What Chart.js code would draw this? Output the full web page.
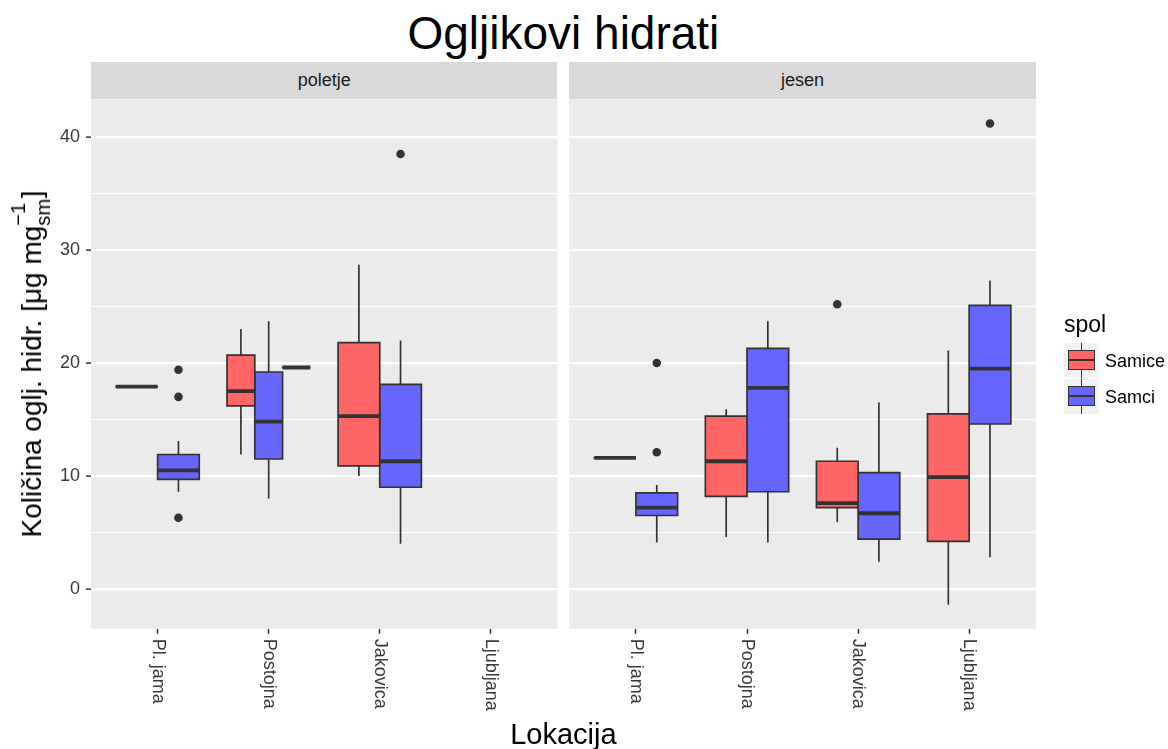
<!DOCTYPE html>
<html>
<head>
<meta charset="utf-8">
<title>Ogljikovi hidrati</title>
<script src="https://cdn.jsdelivr.net/npm/chart.js@4.4.0/dist/chart.umd.min.js"></script>
<style>
  html, body { margin: 0; padding: 0; background: #ffffff; }
  #page { position: relative; width: 1168px; height: 749px; overflow: hidden;
          font-family: "Liberation Sans", Arial, sans-serif; color: #000; }
  canvas { position: absolute; }
  .txt { position: absolute; white-space: nowrap; line-height: 1; }
  #title { left: 0; width: 1126.8px; top: 10px; text-align: center; font-size: 46px; }
  #xtitle { left: 0; width: 1126.8px; top: 720px; text-align: center; font-size: 29px; }
  #ytitle { left: 32.3px; top: 364px; height: 28px; line-height: 28px; font-size: 28px;
            transform: translate(-50%, -50%) rotate(-90deg); }
  .ss { position: relative; display: inline-block; width: 0.98em; height: 0; }
  .ss .sup { position: absolute; left: 0; bottom: 0.62em; font-size: 0.72em; line-height: 1; }
  .ss .sub { position: absolute; left: 0; top: -0.38em; font-size: 0.72em; line-height: 1; }
  .strip { position: absolute; top: 62px; height: 37.4px; line-height: 37.4px; background: #D9D9D9;
           color: #1A1A1A; font-size: 18px; text-align: center; }
  .key { position: absolute; width: 35px; height: 35px; background: #F2F2F2; }
  .key .wh { position: absolute; left: 16.7px; top: 0; width: 1.6px; height: 35px; background: #333; }
  .key .bx { position: absolute; left: 4px; top: 7px; width: 27px; height: 20px; box-sizing: border-box;
             border: 1.6px solid #333; }
  .key .md { position: absolute; left: 4px; top: 16.2px; width: 27px; height: 1.7px; background: #333; }
</style>
</head>
<body>
<div id="page">
  <canvas id="panel0" width="563" height="689" style="left:0;top:60px"></canvas>
  <canvas id="panel1" width="608" height="689" style="left:560px;top:60px"></canvas>
  <div class="strip" id="strip0" style="left:91px;width:466.4px"></div>
  <div class="strip" id="strip1" style="left:569.3px;width:466.5px"></div>
  <div class="txt" id="title">Ogljikovi hidrati</div>
  <div class="txt" id="xtitle">Lokacija</div>
  <div class="txt" id="ytitle">Količina oglj. hidr. [μg mg<span class="ss"><span class="sup">−1</span><span class="sub">sm</span></span>]</div>
  <div id="legend"></div>
</div>
<script>
// Facets, x categories and fill groups
const seasons = ['poletje', 'jesen'];
const locations = ['Pl. jama', 'Postojna', 'Jakovica', 'Ljubljana'];
const sexes = ['Samice', 'Samci'];
const sexFills = ['#FF6666', '#6666FF', '#8C8C8C'];

// One entry per box: facet, location, group and the five-number summary
const boxSeason   = [0, 0, 0, 0, 0, 0, 0, 1, 1, 1, 1, 1, 1, 1, 1];
const boxLocation = [0, 0, 1, 1, 1, 2, 2, 0, 0, 1, 1, 2, 2, 3, 3];
const boxSex      = [0, 1, 0, 1, 2, 0, 1, 0, 1, 0, 1, 0, 1, 0, 1];
const boxLower    = [17.9, 8.6, 11.9, 8.0, 19.6, 10.0, 4.0, 11.6, 4.1, 4.6, 4.1, 5.9, 2.4, -1.4, 2.8];
const boxQ1       = [17.9, 9.7, 16.2, 11.5, 19.6, 10.9, 9.0, 11.6, 6.5, 8.2, 8.6, 7.2, 4.4, 4.2, 14.6];
const boxMedian   = [17.9, 10.5, 17.5, 14.8, 19.6, 15.3, 11.3, 11.6, 7.2, 11.3, 17.8, 7.6, 6.7, 9.9, 19.5];
const boxQ3       = [17.9, 11.9, 20.7, 19.2, 19.6, 21.8, 18.1, 11.6, 8.5, 15.3, 21.3, 11.3, 10.3, 15.5, 25.1];
const boxUpper    = [17.9, 13.1, 23.0, 23.7, 19.6, 28.7, 22.0, 11.6, 9.2, 15.9, 23.7, 12.5, 16.5, 21.1, 27.3];
const boxOutliers = [[], [19.4, 17.0, 6.3], [], [], [], [], [38.5], [], [20.0, 12.1], [], [], [25.2], [], [], [41.2]];

// Y breaks
const yMajorTicks = [0, 10, 20, 30, 40];
const yMinorTicks = [5, 15, 25, 35];

const FONT = '"Liberation Sans", Arial, sans-serif';
const INK = '#333333';
const TICK_TEXT = '#3A3A3A';

// y range: data extent plus 5% on each side
const allValues = boxLower.concat(boxUpper, ...boxOutliers);
const dataLo = Math.min(...allValues), dataHi = Math.max(...allValues);
const yPad = (dataHi - dataLo) * 0.05;
const yMin = dataLo - yPad, yMax = dataHi + yPad;

// dodge: boxes sharing a location split a 0.75-wide slot
function boxGeometry(b) {
  const mates = [];
  for (let i = 0; i < boxSeason.length; i++) {
    if (boxSeason[i] === boxSeason[b] && boxLocation[i] === boxLocation[b]) mates.push(i);
  }
  const w = 0.75 / mates.length;
  const k = mates.indexOf(b);
  const c = boxLocation[b] + 1 - 0.375 + w * (k + 0.5);
  return { c, x0: c - w / 2, x1: c + w / 2 };
}

function facetDatasets(s) {
  const sets = [];
  const outl = [];
  for (let b = 0; b < boxSeason.length; b++) {
    if (boxSeason[b] !== s) continue;
    const { c, x0, x1 } = boxGeometry(b);
    sets.push({
      type: 'line', order: 2,
      data: [{ x: x0, y: boxQ1[b] }, { x: x0, y: boxQ3[b] }, { x: x1, y: boxQ3[b] },
             { x: x1, y: boxQ1[b] }, { x: x0, y: boxQ1[b] }],
      borderColor: INK, borderWidth: 1.7, borderJoinStyle: 'miter', borderCapStyle: 'square',
      backgroundColor: sexFills[boxSex[b]], fill: 'shape', pointRadius: 0
    });
    sets.push({
      type: 'line', order: 3, spanGaps: false,
      data: [{ x: c, y: boxQ3[b] }, { x: c, y: boxUpper[b] }, { x: null, y: null },
             { x: c, y: boxQ1[b] }, { x: c, y: boxLower[b] }],
      borderColor: INK, borderWidth: 1.7, borderCapStyle: 'butt', fill: false, pointRadius: 0
    });
    sets.push({
      type: 'line', order: 1,
      data: [{ x: x0, y: boxMedian[b] }, { x: x1, y: boxMedian[b] }],
      borderColor: INK, borderWidth: 3.8, borderCapStyle: 'butt', fill: false, pointRadius: 0
    });
    boxOutliers[b].forEach(v => outl.push({ x: c, y: v }));
  }
  sets.push({
    type: 'scatter', order: 0, data: outl,
    pointRadius: 4.3, pointBackgroundColor: INK, pointBorderWidth: 0, showLine: false
  });
  return sets;
}

// grey panel background behind the grid
const panelBackground = {
  id: 'panelBackground',
  beforeDraw(chart) {
    const a = chart.chartArea, ctx = chart.ctx;
    ctx.save();
    ctx.fillStyle = '#EBEBEB';
    ctx.fillRect(a.left, a.top, a.right - a.left, a.bottom - a.top);
    ctx.restore();
  }
};

// x labels turned a quarter clockwise, reading downwards from the tick
const downLabels = {
  id: 'downLabels',
  afterDraw(chart) {
    const sc = chart.scales.x, ctx = chart.ctx;
    ctx.save();
    ctx.font = '18px ' + FONT;
    ctx.fillStyle = TICK_TEXT;
    ctx.textAlign = 'left';
    ctx.textBaseline = 'middle';
    sc.ticks.forEach(t => {
      ctx.save();
      ctx.translate(sc.getPixelForValue(t.value), chart.chartArea.bottom + 10);
      ctx.rotate(Math.PI / 2);
      ctx.fillText(locations[t.value - 1], 0, 0);
      ctx.restore();
    });
    ctx.restore();
  }
};

const isMajor = v => yMajorTicks.includes(v);

function makeFacet(s, canvasId, yWidth, padRight, withYLabels) {
  new Chart(document.getElementById(canvasId), {
    type: 'line',
    data: { datasets: facetDatasets(s) },
    plugins: [panelBackground, downLabels],
    options: {
      responsive: false, animation: false, events: [],
      layout: { padding: { left: 0, right: padRight, top: 39.4, bottom: 10.2 } },
      plugins: { legend: { display: false }, tooltip: { enabled: false }, title: { display: false } },
      scales: {
        x: {
          type: 'linear', min: 0.4, max: locations.length + 0.6,
          afterBuildTicks: sc => { sc.ticks = locations.map((_, i) => ({ value: i + 1 })); },
          afterFit: sc => { sc.height = 110; },
          border: { display: false },
          grid: { drawOnChartArea: false, drawTicks: true, tickLength: 5, tickWidth: 1.5, tickColor: INK },
          ticks: { display: false }
        },
        y: {
          type: 'linear', min: yMin, max: yMax,
          afterBuildTicks: sc => {
            sc.ticks = yMajorTicks.concat(yMinorTicks).sort((a, b) => a - b).map(v => ({ value: v }));
          },
          afterFit: sc => { sc.width = yWidth; },
          border: { display: false },
          grid: {
            color: '#FFFFFF',
            lineWidth: c => (c.tick && isMajor(c.tick.value)) ? 2.2 : 1.1,
            drawTicks: withYLabels, tickLength: 5, tickWidth: 1.5,
            tickColor: c => (c.tick && isMajor(c.tick.value)) ? INK : 'rgba(0,0,0,0)'
          },
          ticks: {
            display: withYLabels, autoSkip: false, padding: 6,
            font: { family: FONT, size: 18 }, color: TICK_TEXT,
            callback: v => isMajor(v) ? String(v) : ''
          }
        }
      }
    }
  });
}

makeFacet(0, 'panel0', 91, 5.6, true);
makeFacet(1, 'panel1', 9.3, 132.2, false);

document.getElementById('strip0').textContent = seasons[0];
document.getElementById('strip1').textContent = seasons[1];

// legend: title and one box key per group
const legend = document.getElementById('legend');
const legTitle = document.createElement('div');
legTitle.className = 'txt';
legTitle.style.cssText = 'left:1064px;top:312.5px;font-size:23px';
legTitle.textContent = 'spol';
legend.appendChild(legTitle);
sexes.forEach((name, i) => {
  const top = 343 + i * 36;
  const key = document.createElement('div');
  key.className = 'key';
  key.style.left = '1064px';
  key.style.top = top + 'px';
  key.innerHTML = '<div class="wh"></div><div class="bx" style="background:' + sexFills[i] +
                  '"></div><div class="md"></div>';
  legend.appendChild(key);
  const lab = document.createElement('div');
  lab.className = 'txt';
  lab.style.cssText = 'left:1105px;font-size:18px;top:' + (top + 17.5 - 8.75) + 'px';
  lab.textContent = name;
  legend.appendChild(lab);
});
</script>
</body>
</html>
